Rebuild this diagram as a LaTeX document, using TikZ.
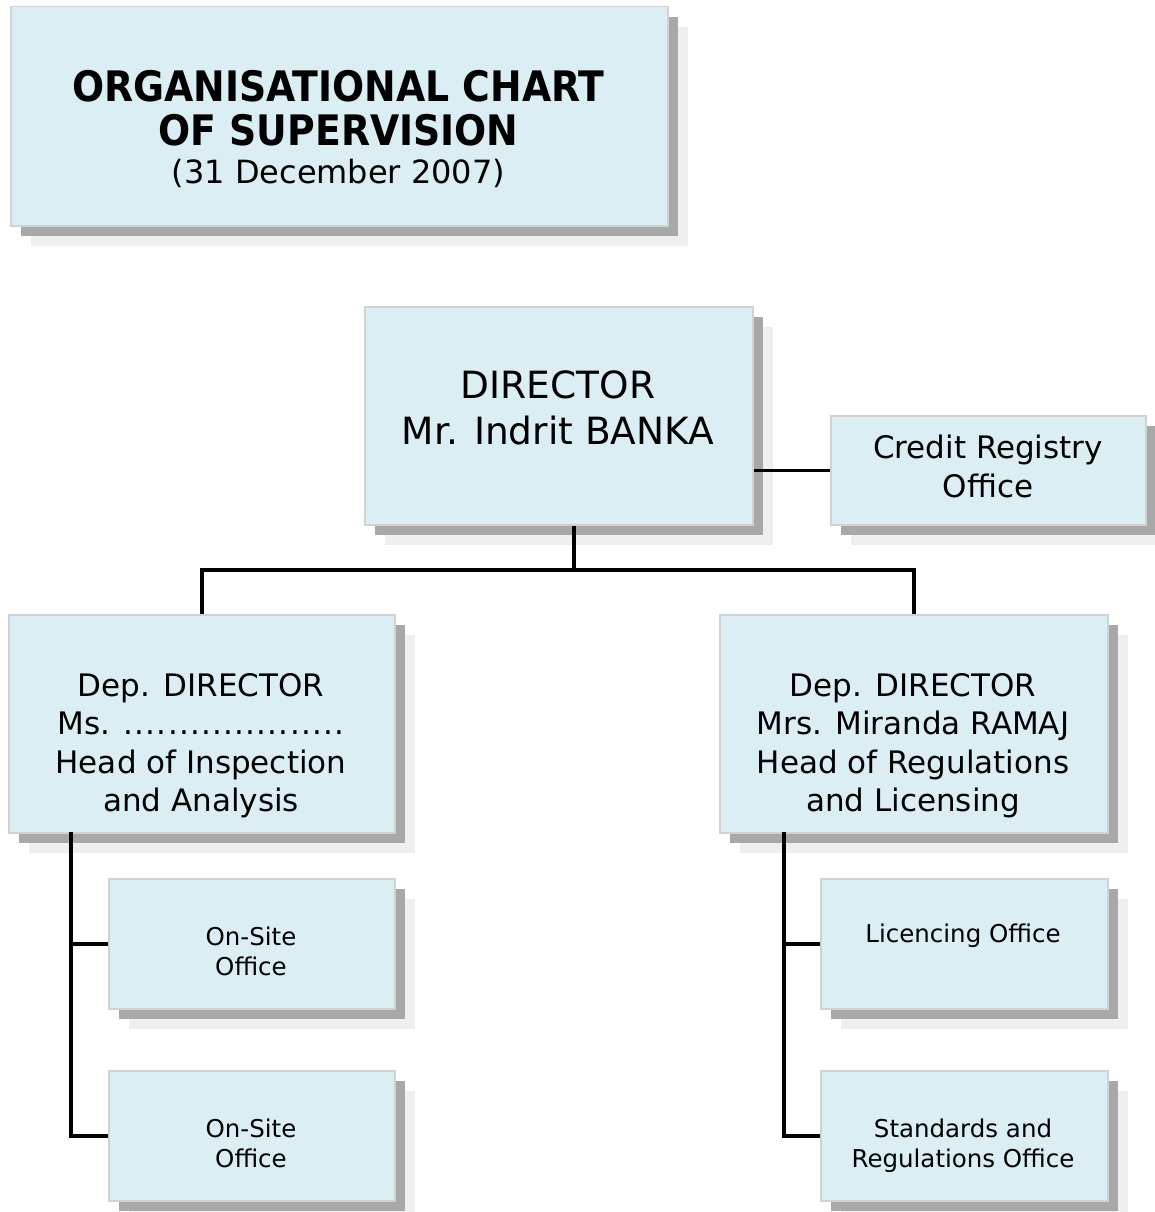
\documentclass[tikz,border=0pt]{standalone}
\usepackage{fontspec}
\setmainfont{DejaVu Sans}
\newfontfamily\titlefont{DejaVu Sans Condensed}
\usetikzlibrary{shadows}
\definecolor{boxfill}{HTML}{DAEEF3}
\definecolor{boxline}{HTML}{D2D2D2}
\definecolor{shdark}{HTML}{A8A8A8}
\definecolor{shlight}{HTML}{EFEFEF}
\begin{document}
\begin{tikzpicture}[x=1pt,y=-1pt,
  orgbox/.style={draw=boxline, line width=1.5pt, fill=boxfill, rectangle, anchor=north west, inner sep=0pt,
    general shadow={fill=shlight, shadow xshift=20pt, shadow yshift=-20pt},
    general shadow={fill=shdark, shadow xshift=10pt, shadow yshift=-10pt}},
  txt/.style={align=center, inner sep=0pt, text=black},
  titlefnt/.style={font=\titlefont\bfseries\fontsize{42}{44}\selectfont},
  datefnt/.style={font=\fontsize{32}{41}\selectfont},
  dirfont/.style={font=\fontsize{37.5}{46}\selectfont},
  depfont/.style={font=\fontsize{31}{38.5}\selectfont},
  crfont/.style={font=\fontsize{31}{39}\selectfont},
  smallfont/.style={font=\fontsize{24.5}{30}\selectfont},
  conn/.style={line width=3.5pt, black}]
\useasboundingbox (0,0) rectangle (1155,1212);

% boxes
\node[orgbox, minimum width=657pt, minimum height=219pt] (title) at (10,6) {};
\node[orgbox, minimum width=388pt, minimum height=218pt] (dir) at (364,306) {};
\node[orgbox, minimum width=315pt, minimum height=109pt] (cr) at (830,415) {};
\node[orgbox, minimum width=386pt, minimum height=218pt] (depL) at (8,614) {};
\node[orgbox, minimum width=388pt, minimum height=218pt] (depR) at (719,614) {};
\node[orgbox, minimum width=286pt, minimum height=130pt] (on1) at (108,878) {};
\node[orgbox, minimum width=286pt, minimum height=130pt] (on2) at (108,1070) {};
\node[orgbox, minimum width=287pt, minimum height=130pt] (lic) at (820,878) {};
\node[orgbox, minimum width=287pt, minimum height=130pt] (std) at (820,1070) {};

% texts
\node[txt, titlefnt] (titleT) at (338.5,108) {ORGANISATIONAL CHART\\OF SUPERVISION};
\node[txt, datefnt] (dateT) at (338.5,173) {(31 December 2007)};
\node[txt, dirfont] (dirT) at (558,408) {DIRECTOR\\Mr. Indrit BANKA};
\node[txt, crfont] (crT) at (988,466) {Credit Registry\\Office};
\node[txt, depfont] (depLT) at (201,745.5) {Dep. DIRECTOR\\Ms. {\addfontfeature{LetterSpace=4}....................}\\Head of Inspection\\and Analysis};
\node[txt, depfont] (depRT) at (913,745.5) {Dep. DIRECTOR\\Mrs. Miranda RAMAJ\\Head of Regulations\\and Licensing};
\node[txt, smallfont] (on1T) at (251,951) {On-Site\\Office};
\node[txt, smallfont] (on2T) at (251,1143) {On-Site\\Office};
\node[txt, smallfont] (licT) at (963,936) {Licencing Office};
\node[txt, smallfont] (stdT) at (963,1146) {Standards and\\Regulations Office};

% connectors
\coordinate (bus) at (574,570);
\coordinate (lv) at (71,832);
\coordinate (rv) at (784,832);
\draw[conn] (dir.south -| bus) -- (bus);
\draw[conn] (depL.north) |- (bus) -| (depR.north);
\draw[conn] (dir.east |- cr.west) -- (cr.west);
\draw[conn] (lv) |- (on2.west);
\draw[conn] (lv |- on1.west) -- (on1.west);
\draw[conn] (rv) |- (std.west);
\draw[conn] (rv |- lic.west) -- (lic.west);
\end{tikzpicture}
\end{document}
